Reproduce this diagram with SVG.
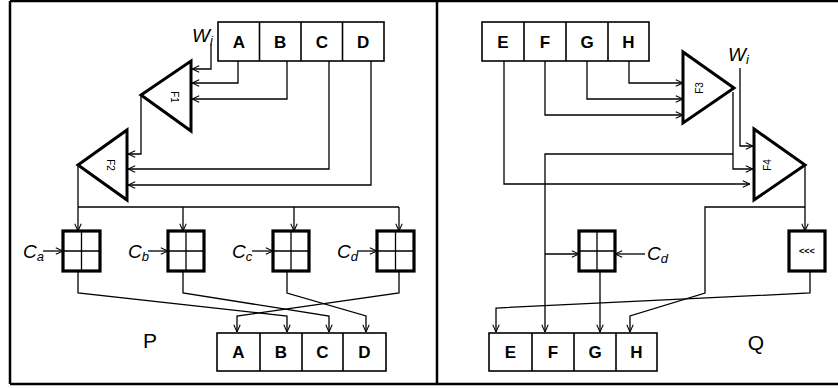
<svg xmlns="http://www.w3.org/2000/svg" width="838" height="388" viewBox="0 0 838 388">
<style>
.frame{stroke:#000;stroke-width:2.5;fill:none}
.cell{fill:#fff;stroke:#000;stroke-width:1.6}
.tri{fill:#fff;stroke:#000;stroke-width:3;stroke-linejoin:miter}
.add{fill:#fff;stroke:#000;stroke-width:3.2}
.thin{stroke:#000;stroke-width:1.3;fill:none}
.ln{stroke:#000;stroke-width:1.3;fill:none}
.arr{marker-end:url(#ah)}
.reg{font-family:"Liberation Sans",Arial,sans-serif;font-weight:bold;font-size:17px;text-anchor:middle}
.fl{font-family:"Liberation Sans",Arial,sans-serif;font-size:10px;text-anchor:middle}
.it{font-family:"Liberation Sans",Arial,sans-serif;font-style:italic;font-size:19px}
.sub{font-size:13px}
.big{font-family:"Liberation Sans",Arial,sans-serif;font-size:21px;text-anchor:middle}
</style>
<defs>
<marker id="ah" viewBox="0 0 10 10" refX="10" refY="5" markerWidth="8" markerHeight="8" markerUnits="userSpaceOnUse" orient="auto">
<path d="M1,1 L10,5 L1,9" fill="none" stroke="#000" stroke-width="1.3"/>
</marker>
</defs>
<rect width="838" height="388" fill="#fff"/>
<g id="frame">
<path class="frame" d="M10,1 H838 M10,1 V384 M10,384 H838 M437,1 V384"/>
</g>
<g id="connectors">
<path class="ln arr" d="M211,44 V69 H192"/>
<path class="ln arr" d="M238,61 V83 H192"/>
<path class="ln arr" d="M287,61 V99 H192"/>
<path class="ln arr" d="M329,61 V169 H128"/>
<path class="ln arr" d="M371,61 V185 H128"/>
<path class="ln arr" d="M141,95 V154 H128"/>
<path class="ln arr" d="M78,165 V231"/>
<path class="ln" d="M78,207 H399"/>
<path class="ln arr" d="M183,207 V231"/>
<path class="ln arr" d="M294,207 V231"/>
<path class="ln arr" d="M399,207 V231"/>
<path class="ln arr" d="M43,251 H63"/>
<path class="ln arr" d="M148,251 H168"/>
<path class="ln arr" d="M252,251 H273"/>
<path class="ln arr" d="M357,251 H377"/>
<path class="ln arr" d="M78,271 V293 L287,316 V332"/>
<path class="ln arr" d="M183,271 V293 L329,316 V332"/>
<path class="ln arr" d="M287,271 V293 L366,316 V332"/>
<path class="ln arr" d="M399,271 V293 L237,316 V332"/>
<path class="ln arr" d="M504,61 V184 H750"/>
<path class="ln arr" d="M545,61 V115 H683"/>
<path class="ln arr" d="M587,61 V99 H683"/>
<path class="ln arr" d="M629,61 V83 H683"/>
<path class="ln arr" d="M740,68 V146 H753"/>
<path class="ln arr" d="M733,92 V169 H753"/>
<path class="ln arr" d="M733,154 H545 V332"/>
<path class="ln arr" d="M545,254 H579"/>
<path class="ln arr" d="M645,254 H615"/>
<path class="ln arr" d="M600,271 V332"/>
<path class="ln arr" d="M805,165 V231"/>
<path class="ln arr" d="M805,207 H705 V293 L630,316 V332"/>
<path class="ln arr" d="M810,271 V293 L496,308 V332"/>
</g>
<g id="regP_in">
<rect class="cell" x="218" y="22" width="166" height="39"/>
<path class="cell" d="M259.5,22 V61 M301,22 V61 M342.5,22 V61"/>
<text class="reg" x="238.8" y="48">A</text>
<text class="reg" x="280.2" y="48">B</text>
<text class="reg" x="321.8" y="48">C</text>
<text class="reg" x="363.2" y="48">D</text>
</g>
<g id="Wi_P"><text class="it" x="192" y="42">W<tspan class="sub" dy="3">i</tspan></text></g>
<g id="F1">
<polygon class="tri" points="191,61 191,131 141,95"/>
<text class="fl" transform="translate(174,97) rotate(90)" y="3.5">F1</text>
</g>
<g id="F2">
<polygon class="tri" points="127,130 127,200 78,165"/>
<text class="fl" transform="translate(110,165) rotate(90)" y="3.5">F2</text>
</g>
<g id="addA"><rect class="add" x="63" y="231" width="37" height="40"/><path class="thin" d="M81.5,231 V271 M63,251 H100"/></g>
<g id="addB"><rect class="add" x="168" y="231" width="36" height="40"/><path class="thin" d="M186,231 V271 M168,251 H204"/></g>
<g id="addC"><rect class="add" x="273" y="231" width="36" height="40"/><path class="thin" d="M291,231 V271 M273,251 H309"/></g>
<g id="addD"><rect class="add" x="377" y="231" width="37" height="40"/><path class="thin" d="M395.5,231 V271 M377,251 H414"/></g>
<g id="Ca"><text class="it" x="23" y="258">C<tspan class="sub" dy="3">a</tspan></text></g>
<g id="Cb"><text class="it" x="128" y="258">C<tspan class="sub" dy="3">b</tspan></text></g>
<g id="Cc"><text class="it" x="232" y="258">C<tspan class="sub" dy="3">c</tspan></text></g>
<g id="Cd"><text class="it" x="337" y="258">C<tspan class="sub" dy="3">d</tspan></text></g>
<g id="regP_out">
<rect class="cell" x="217" y="333" width="169" height="38"/>
<path class="cell" d="M260,333 V371 M302,333 V371 M343,333 V371"/>
<text class="reg" x="238.5" y="358">A</text>
<text class="reg" x="281" y="358">B</text>
<text class="reg" x="322.5" y="358">C</text>
<text class="reg" x="364.5" y="358">D</text>
</g>
<g id="labelP"><text class="big" x="150" y="348">P</text></g>
<g id="regQ_in">
<rect class="cell" x="482" y="22" width="167" height="39"/>
<path class="cell" d="M524,22 V61 M566,22 V61 M608,22 V61"/>
<text class="reg" x="503" y="48">E</text>
<text class="reg" x="545" y="48">F</text>
<text class="reg" x="587" y="48">G</text>
<text class="reg" x="628.5" y="48">H</text>
</g>
<g id="Wi_Q"><text class="it" x="728" y="61">W<tspan class="sub" dy="3">i</tspan></text></g>
<g id="F3">
<polygon class="tri" points="683,52 683,123 734,88"/>
<text class="fl" transform="translate(699,88) rotate(-90)" y="3.5">F3</text>
</g>
<g id="F4">
<polygon class="tri" points="754,129 754,200 805,165"/>
<text class="fl" transform="translate(767,165) rotate(-90)" y="3.5">F4</text>
</g>
<g id="addQ"><rect class="add" x="579" y="231" width="36" height="40"/><path class="thin" d="M597,231 V271 M579,251 H615"/></g>
<g id="CdQ"><text class="it" x="647" y="260">C<tspan class="sub" dy="3">d</tspan></text></g>
<g id="rot">
<rect class="add" x="789" y="231" width="36" height="40"/>
<text class="fl" x="807" y="254" style="font-size:9px;font-weight:bold">&lt;&lt;&lt;</text>
</g>
<g id="regQ_out">
<rect class="cell" x="489" y="333" width="168" height="38"/>
<path class="cell" d="M532,333 V371 M574,333 V371 M616,333 V371"/>
<text class="reg" x="510.5" y="358">E</text>
<text class="reg" x="553" y="358">F</text>
<text class="reg" x="595" y="358">G</text>
<text class="reg" x="636.5" y="358">H</text>
</g>
<g id="labelQ"><text class="big" x="756" y="350">Q</text></g>
</svg>
